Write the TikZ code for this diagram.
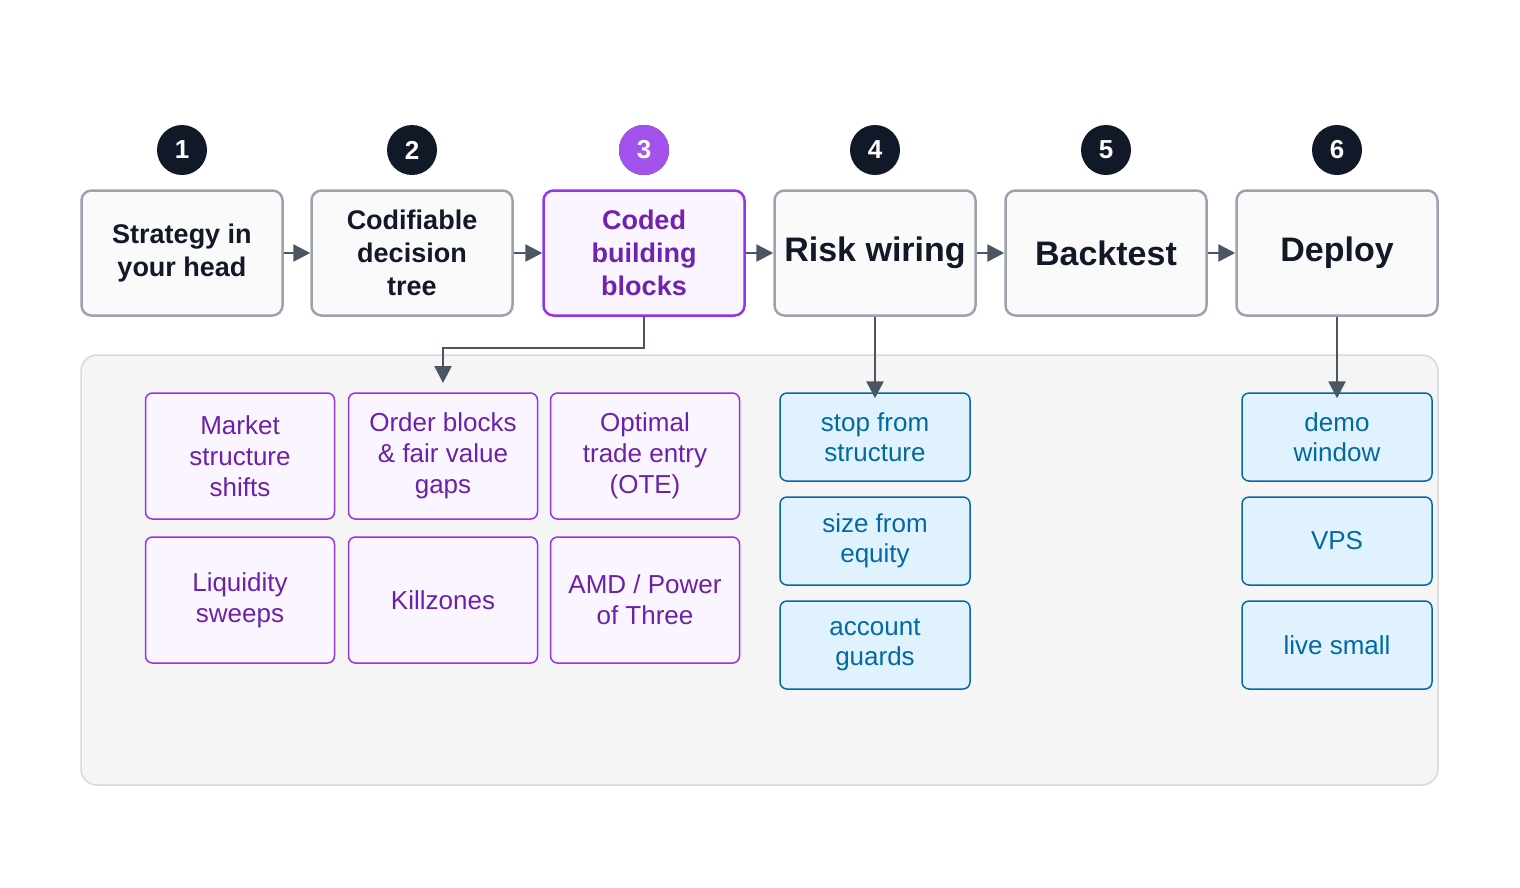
\documentclass[tikz,border=0pt]{standalone}
\usepackage{fontspec}
\setmainfont{Liberation Sans}
\usetikzlibrary{arrows.meta}
\definecolor{dk}{HTML}{111827}
\definecolor{ag}{HTML}{4B5563}
\definecolor{bx}{HTML}{9CA3AF}
\definecolor{pu}{HTML}{9333EA}
\definecolor{pt}{HTML}{6B21A8}
\definecolor{pf}{HTML}{FAF5FF}
\definecolor{bl}{HTML}{0369A1}
\definecolor{bf}{HTML}{E0F2FE}
\begin{document}
\begin{tikzpicture}[x=1pt,y=-1pt,
 top/.style={draw=bx,line width=2.5pt,fill=gray!4,rounded corners=10pt,minimum width=201pt,minimum height=125pt,align=center,font=\fontsize{27}{33}\selectfont\bfseries,text=dk},
 num/.style={circle,fill=dk,minimum size=50pt,inner sep=0pt,text=white,font=\fontsize{26}{30}\selectfont\bfseries},
 pbox/.style={draw=pu,line width=1.5pt,fill=pf,rounded corners=7pt,minimum width=189pt,minimum height=126pt,align=center,text=pt,font=\fontsize{26}{31}\selectfont},
 bbox/.style={draw=bl,line width=1.5pt,fill=bf,rounded corners=7pt,minimum width=190pt,minimum height=88pt,align=center,text=bl,font=\fontsize{26}{30}\selectfont},
 arr/.style={draw=ag,line width=2.5pt,-{Triangle[length=17pt,width=17pt]}}]
\useasboundingbox (0,0) rectangle (1520,887);
\fill[white] (0,0) rectangle (1520,887);
\draw[draw=gray!30,fill=gray!8,line width=1.5pt,rounded corners=16pt] (81,355) rectangle (1438,785);
\foreach \i/\x in {1/182,2/412,3/644,4/875,5/1106,6/1337}{\node[num] (n\i) at (\x,150) {\i};}
\node[num,fill=pu!85] at (644,150) {3};
\node[top] (t1) at (182,253) {Strategy in\\your head};
\node[top] (t2) at (412,253) {Codifiable\\decision\\tree};
\node[top,draw=pu,fill=pf,text=pt!90!pu] (t3) at (644,253) {Coded\\building\\blocks};
\node[top,font=\fontsize{34}{40}\selectfont\bfseries] (t4) at (875,253) {Risk wiring};
\node[top,font=\fontsize{34}{40}\selectfont\bfseries] (t5) at (1106,253) {Backtest};
\node[top,font=\fontsize{34}{40}\selectfont\bfseries] (t6) at (1337,253) {Deploy};
\foreach \a/\b in {t1/t2,t2/t3,t3/t4,t4/t5,t5/t6}{\draw[arr] (\a.east) -- (\b.west);}
\node[pbox] (p1) at (240,456) {Market\\structure\\shifts};
\node[pbox] (p2) at (443,456) {Order blocks\\\& fair value\\gaps};
\node[pbox] (p3) at (645,456) {Optimal\\trade entry\\(OTE)};
\node[pbox] (p4) at (240,600) {Liquidity\\sweeps};
\node[pbox] (p5) at (443,600) {Killzones};
\node[pbox] (p6) at (645,600) {AMD / Power\\of Three};
\node[bbox] (b1) at (875,437) {stop from\\structure};
\node[bbox] (b2) at (875,541) {size from\\equity};
\node[bbox] (b3) at (875,645) {account\\guards};
\node[bbox] (c1) at (1337,437) {demo\\window};
\node[bbox] (c2) at (1337,541) {VPS};
\node[bbox] (c3) at (1337,645) {live small};
\coordinate (k1) at (443,383);
\draw[arr] (t3.south) |- (544,348) -| (k1);
\draw[arr] (t4.south) -- ([yshift=-6pt]b1.north);
\draw[arr] (t6.south) -- ([yshift=-6pt]c1.north);
\end{tikzpicture}
\end{document}
